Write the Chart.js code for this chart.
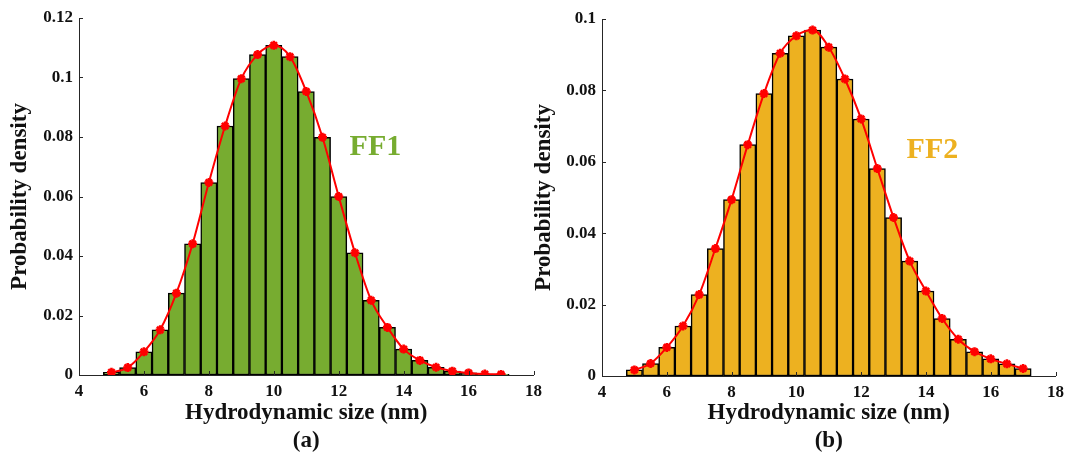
<!DOCTYPE html>
<html>
<head>
<meta charset="utf-8">
<script src="https://cdn.jsdelivr.net/npm/chart.js@4.4.1/dist/chart.umd.min.js"></script>
<style>
  html, body { margin: 0; padding: 0; background: #fff; }
  body { width: 1070px; height: 456px; position: relative; overflow: hidden; }
  canvas { position: absolute; top: 0; }
  #chartA { left: 0; }
  #chartB { left: 530px; }
</style>
</head>
<body>
<canvas id="chartA" width="548" height="456"></canvas>
<canvas id="chartB" width="540" height="456"></canvas>
<script>
// bin centres (nm)
const sizes = [5, 5.5, 6, 6.5, 7, 7.5, 8, 8.5, 9, 9.5, 10, 10.5, 11, 11.5, 12, 12.5, 13, 13.5, 14, 14.5, 15, 15.5, 16, 16.5, 17];

const densityFF1 = [0.0009, 0.0025, 0.0078, 0.0152, 0.0275, 0.0441, 0.0647, 0.0837, 0.0996, 0.1077, 0.1108, 0.1070, 0.0953, 0.0799, 0.0600, 0.0411, 0.0251, 0.0160, 0.0087, 0.0049, 0.0026, 0.0013, 0.0007, 0.0003, 0.0002];
const densityFF2 = [0.0017, 0.0035, 0.0080, 0.0140, 0.0228, 0.0357, 0.0494, 0.0648, 0.0791, 0.0904, 0.0953, 0.0969, 0.0921, 0.0832, 0.0720, 0.0581, 0.0444, 0.0322, 0.0238, 0.0161, 0.0103, 0.0068, 0.0048, 0.0034, 0.0021];

const xTicks = [4, 6, 8, 10, 12, 14, 16, 18];
const yTicksA = [0, 0.02, 0.04, 0.06, 0.08, 0.1, 0.12];
const yTicksB = [0, 0.02, 0.04, 0.06, 0.08, 0.1];

const axisColor = "#262626";
const textColor = "#111";
const serif = "'Liberation Serif', 'Times New Roman', serif";

// MATLAB-style ticks pointing into the plot
const innerTicks = {
  id: "innerTicks",
  afterDatasetsDraw(chart) {
    const { ctx, scales: { x, y } } = chart;
    ctx.save();
    ctx.strokeStyle = axisColor;
    ctx.lineWidth = 1;
    ctx.beginPath();
    x.ticks.forEach((t) => {
      const px = Math.round(x.getPixelForValue(t.value)) + 0.5;
      ctx.moveTo(px, y.bottom);
      ctx.lineTo(px, y.bottom - 4);
    });
    y.ticks.forEach((t) => {
      const py = Math.round(y.getPixelForValue(t.value)) + 0.5;
      ctx.moveTo(x.left, py);
      ctx.lineTo(x.left + 4, py);
    });
    ctx.stroke();
    ctx.restore();
  },
};

const sampleLabel = {
  id: "sampleLabel",
  afterDraw(chart, args, opts) {
    const { ctx, scales: { x, y } } = chart;
    ctx.save();
    ctx.font = "bold 30px " + serif;
    ctx.fillStyle = opts.color;
    ctx.textAlign = "center";
    ctx.textBaseline = "middle";
    ctx.fillText(opts.text, x.getPixelForValue(opts.x), y.getPixelForValue(opts.y));
    ctx.restore();
  },
};

const createPanel = function (id, values, color, yTicks, cfg) {
  const points = sizes.map((s, i) => ({ x: s, y: values[i] }));
  new Chart(document.getElementById(id), {
    type: "bar",
    data: {
      datasets: [
        {
          type: "line",
          data: points,
          borderColor: "#ff0000",
          borderWidth: 2,
          cubicInterpolationMode: "monotone",
          pointStyle: "star",
          pointRadius: 4.5,
          pointBorderWidth: 2.6,
          pointBorderColor: "#ff0000",
          pointBackgroundColor: "#ff0000",
          order: 0,
        },
        {
          type: "bar",
          data: points,
          backgroundColor: color,
          borderColor: "#000",
          borderWidth: 1.5,
          borderSkipped: false,
          barPercentage: 1,
          categoryPercentage: 1,
          order: 1,
        },
      ],
    },
    options: {
      responsive: false,
      animation: false,
      layout: { padding: { top: cfg.top, right: 12, left: 0, bottom: 0 } },
      plugins: {
        legend: { display: false },
        tooltip: { enabled: false },
        sampleLabel: cfg.label,
      },
      scales: {
        x: {
          type: "linear",
          min: 4,
          max: 18,
          offset: false,
          afterBuildTicks: (s) => {
            s.ticks = xTicks.map((v) => ({ value: v }));
          },
          afterFit: (s) => {
            s.height = cfg.xHeight;
          },
          grid: { display: false, drawTicks: false, offset: false },
          border: { display: true, color: axisColor, width: 1 },
          ticks: {
            font: { family: serif, size: 17, weight: "bold" },
            color: textColor,
            padding: 6,
            maxRotation: 0,
          },
          title: {
            display: true,
            text: ["Hydrodynamic size (nm)", cfg.caption],
            font: { family: serif, size: 23, weight: "bold", lineHeight: 1.217 },
            color: textColor,
            padding: { top: 0, bottom: 1 },
          },
        },
        y: {
          type: "linear",
          min: 0,
          max: yTicks[yTicks.length - 1],
          afterBuildTicks: (s) => {
            s.ticks = yTicks.map((v) => ({ value: v }));
          },
          afterFit: (s) => {
            s.width = cfg.yWidth;
          },
          grid: { display: false, drawTicks: false },
          border: { display: true, color: axisColor, width: 1 },
          ticks: {
            font: { family: serif, size: 17, weight: "bold" },
            color: textColor,
            padding: 6,
            callback: (v) => String(v),
          },
          title: {
            display: true,
            text: "Probability density",
            font: { family: serif, size: 23, weight: "bold" },
            color: textColor,
            padding: { top: cfg.yTitlePad, bottom: 0 },
          },
        },
      },
    },
    plugins: [innerTicks, sampleLabel],
  });
};

createPanel("chartA", densityFF1, "#77ac30", yTicksA, {
  top: 18,
  xHeight: 81,
  yWidth: 79,
  yTitlePad: 6,
  caption: "(a)",
  label: { text: "FF1", color: "#77ac30", x: 13.13, y: 0.0766 },
});

createPanel("chartB", densityFF2, "#edb120", yTicksB, {
  top: 19,
  xHeight: 80,
  yWidth: 72,
  yTitlePad: 0,
  caption: "(b)",
  label: { text: "FF2", color: "#edb120", x: 14.2, y: 0.0633 },
});
</script>
</body>
</html>
